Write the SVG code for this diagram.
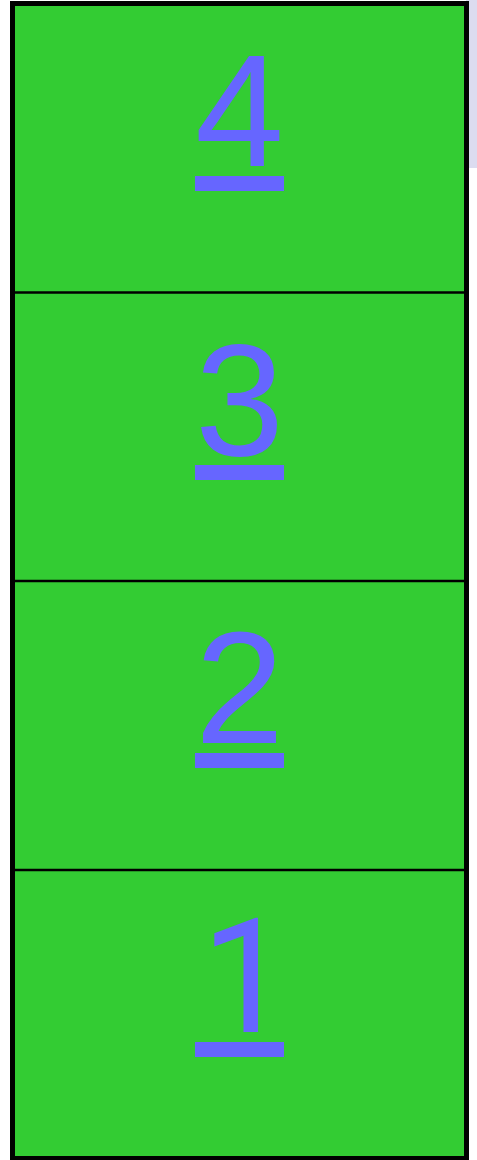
<svg xmlns="http://www.w3.org/2000/svg" width="477" height="1160" viewBox="0 0 477 1160">
<style>
.cell{fill:#33cc33}
.num{font-family:"Liberation Sans",Arial,sans-serif;font-size:160px;fill:#6666ff}
.one{font-family:Roboto,"Liberation Sans",sans-serif}
.ul{fill:#6666ff}
.div{stroke:#000;stroke-width:2.5}
</style>
<rect x="466" y="0" width="11" height="168" fill="#dcdcf0"/>
<rect x="12.5" y="3.5" width="454" height="1155" class="cell" stroke="#000" stroke-width="5"/>
<g id="connectors">
<line class="div" x1="15" y1="292.5" x2="464" y2="292.5"/>
<line class="div" x1="15" y1="581" x2="464" y2="581"/>
<line class="div" x1="15" y1="870" x2="464" y2="870"/>
</g>
<g id="n4"><text class="num" x="195" y="166">4</text><rect class="ul" x="195" y="176" width="89" height="15"/></g>
<g id="n3"><text class="num" x="195" y="455">3</text><rect class="ul" x="195" y="465" width="89" height="15"/></g>
<g id="n2"><text class="num" x="195" y="743">2</text><rect class="ul" x="195" y="753" width="89" height="15"/></g>
<g id="n1"><text class="num one" x="201" y="1032">1</text><rect class="ul" x="195" y="1042" width="89" height="15"/></g>
</svg>
